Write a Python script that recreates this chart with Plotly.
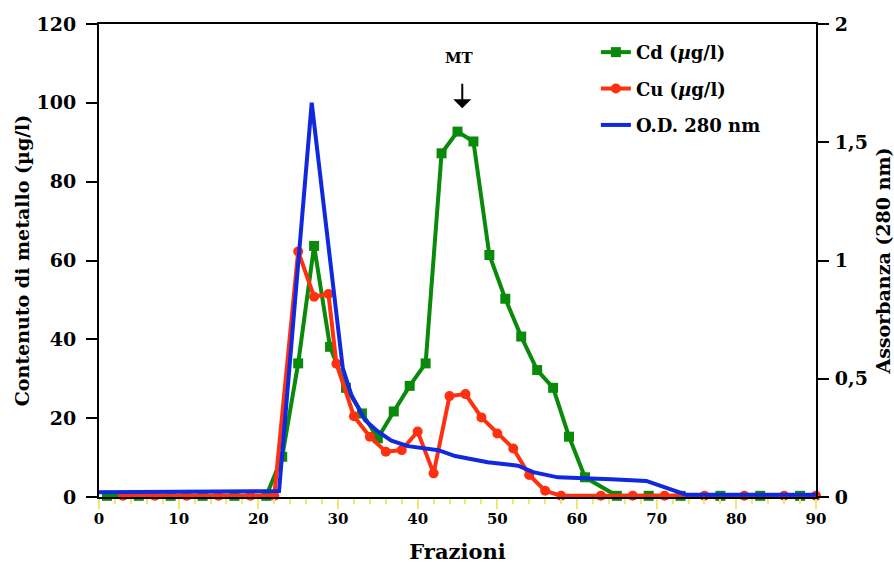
import plotly.graph_objects as go

# Cadmium content per fraction (µg/l)
cd_x = [1, 5, 9, 13, 17, 21, 23, 25, 27, 29, 31, 33, 35, 37, 39, 41, 43, 45, 47, 49,
        51, 53, 55, 57, 59, 61, 65, 69, 73, 78, 83, 88]
cd_y = [0.3, 0.3, 0.3, 0.3, 0.3, 0.3, 10.2, 33.9, 63.7, 38.1, 27.7, 21.2, 14.9, 21.7,
        28.2, 33.9, 87.2, 92.7, 90.2, 61.4, 50.3, 40.7, 32.2, 27.7, 15.3, 5.0, 0.3, 0.3,
        0.3, 0.3, 0.3, 0.3]

# Copper content per fraction (µg/l)
cu_x = [3, 7, 11, 15, 19, 22, 25, 27, 28.8, 29.8, 32, 34, 36, 38, 40, 42, 44, 46, 48,
        50, 52, 54, 56, 58, 63, 67, 71, 76, 81, 86, 90]
cu_y = [0.3, 0.3, 0.3, 0.3, 0.3, 0.3, 62.3, 50.8, 51.5, 33.8, 20.5, 15.3, 11.5, 11.9,
        16.6, 6.0, 25.6, 26.1, 20.2, 16.1, 12.3, 5.6, 1.6, 0.3, 0.3, 0.3, 0.3, 0.3, 0.3,
        0.3, 0.3]

# Absorbance at 280 nm
od_x = [0, 22.6, 26.7, 30.6, 31.7, 33.4, 35, 36.7, 38.8, 42.6, 44.7, 48.8, 52.6, 54.5,
        57.6, 60.9, 64.3, 68.7, 73.7, 90]
od_y = [0.02, 0.025, 1.667, 0.545, 0.43, 0.325, 0.277, 0.238, 0.215, 0.198, 0.173,
        0.147, 0.132, 0.105, 0.083, 0.077, 0.075, 0.068, 0.01, 0.01]

x_ticks = [0, 10, 20, 30, 40, 50, 60, 70, 80, 90]
y_ticks = [0, 20, 40, 60, 80, 100, 120]
y2_ticks = [0, 0.5, 1, 1.5, 2]
y2_labels = ["0", "0,5", "1", "1,5", "2"]

FONT = "DejaVu Serif"

fig = go.Figure()

fig.add_trace(go.Scatter(
    x=cd_x, y=cd_y, name="Cd (<i>µ</i>g/l)", mode="lines+markers",
    line=dict(color="#0a8a0a", width=4),
    marker=dict(symbol="square", size=10, color="#0a8a0a"),
    legendgroup="cd", cliponaxis=False,
))
fig.add_trace(go.Scatter(
    x=cu_x, y=cu_y, name="Cu (<i>µ</i>g/l)", mode="lines+markers",
    line=dict(color="#ff3010", width=4),
    marker=dict(symbol="circle", size=10, color="#ff3010"),
    legendgroup="cu", cliponaxis=False,
))
fig.add_trace(go.Scatter(
    x=od_x, y=od_y, name="O.D. 280 nm", mode="lines", yaxis="y2",
    line=dict(color="#1028e0", width=4),
    legendgroup="od", cliponaxis=False,
))

# MT peak marker
fig.add_annotation(x=45.2, y=111.5, text="MT", showarrow=False,
                   font=dict(family=FONT, size=15, color="black", weight="bold"))
fig.add_annotation(x=45.6, y=98.6, ax=45.6, ay=105.2, xref="x", yref="y",
                   axref="x", ayref="y", text="", showarrow=True,
                   arrowhead=1, arrowsize=1.5, arrowwidth=2, arrowcolor="black")

fig.update_layout(
    width=894, height=564,
    margin=dict(l=99, r=78, t=24, b=67),
    paper_bgcolor="white", plot_bgcolor="white",
    font=dict(family=FONT, color="black", weight="bold"),
    showlegend=True,
    legend=dict(x=0.693, y=0.979, xanchor="left", yanchor="top",
                bgcolor="rgba(0,0,0,0)", font=dict(size=18, family=FONT, weight="bold"),
                tracegroupgap=10, traceorder="grouped"),
    xaxis=dict(
        range=[0, 90], tickvals=x_ticks, showgrid=False, zeroline=False, automargin=False,
        showline=True, linecolor="black", linewidth=2, mirror=True,
        ticks="outside", ticklen=10, tickwidth=1.5, tickcolor="#f2e86d",
        minor=dict(dtick=2, ticks="outside", ticklen=5, tickwidth=1.5, tickcolor="#f2e86d"),
        ticklabelstandoff=-3,
        tickfont=dict(size=15, family=FONT, weight="bold"),
        title=dict(text="Frazioni", font=dict(size=21, family=FONT, weight="bold"), standoff=17),
    ),
    yaxis=dict(
        range=[0, 120], tickvals=y_ticks, showgrid=False, zeroline=False, automargin=False,
        showline=True, linecolor="black", linewidth=2,
        ticks="outside", ticklen=11, tickwidth=1.5, tickcolor="black",
        ticklabelstandoff=6,
        tickfont=dict(size=19, family=FONT, weight="bold"),
        title=dict(text="Contenuto di metallo (µg/l)",
                   font=dict(size=19, family=FONT, weight="bold"), standoff=2),
    ),
    yaxis2=dict(
        range=[0, 2], tickvals=y2_ticks, ticktext=y2_labels, overlaying="y", side="right",
        showgrid=False, zeroline=False, showline=True, linecolor="black", linewidth=2,
        automargin=False,
        ticks="outside", ticklen=11, tickwidth=1.5, tickcolor="black",
        ticklabelstandoff=2,
        tickfont=dict(size=19, family=FONT, weight="bold"),
        title=dict(text="Assorbanza (280 nm)",
                   font=dict(size=19, family=FONT, weight="bold"), standoff=14),
    ),
)

fig.write_html("out.html")
